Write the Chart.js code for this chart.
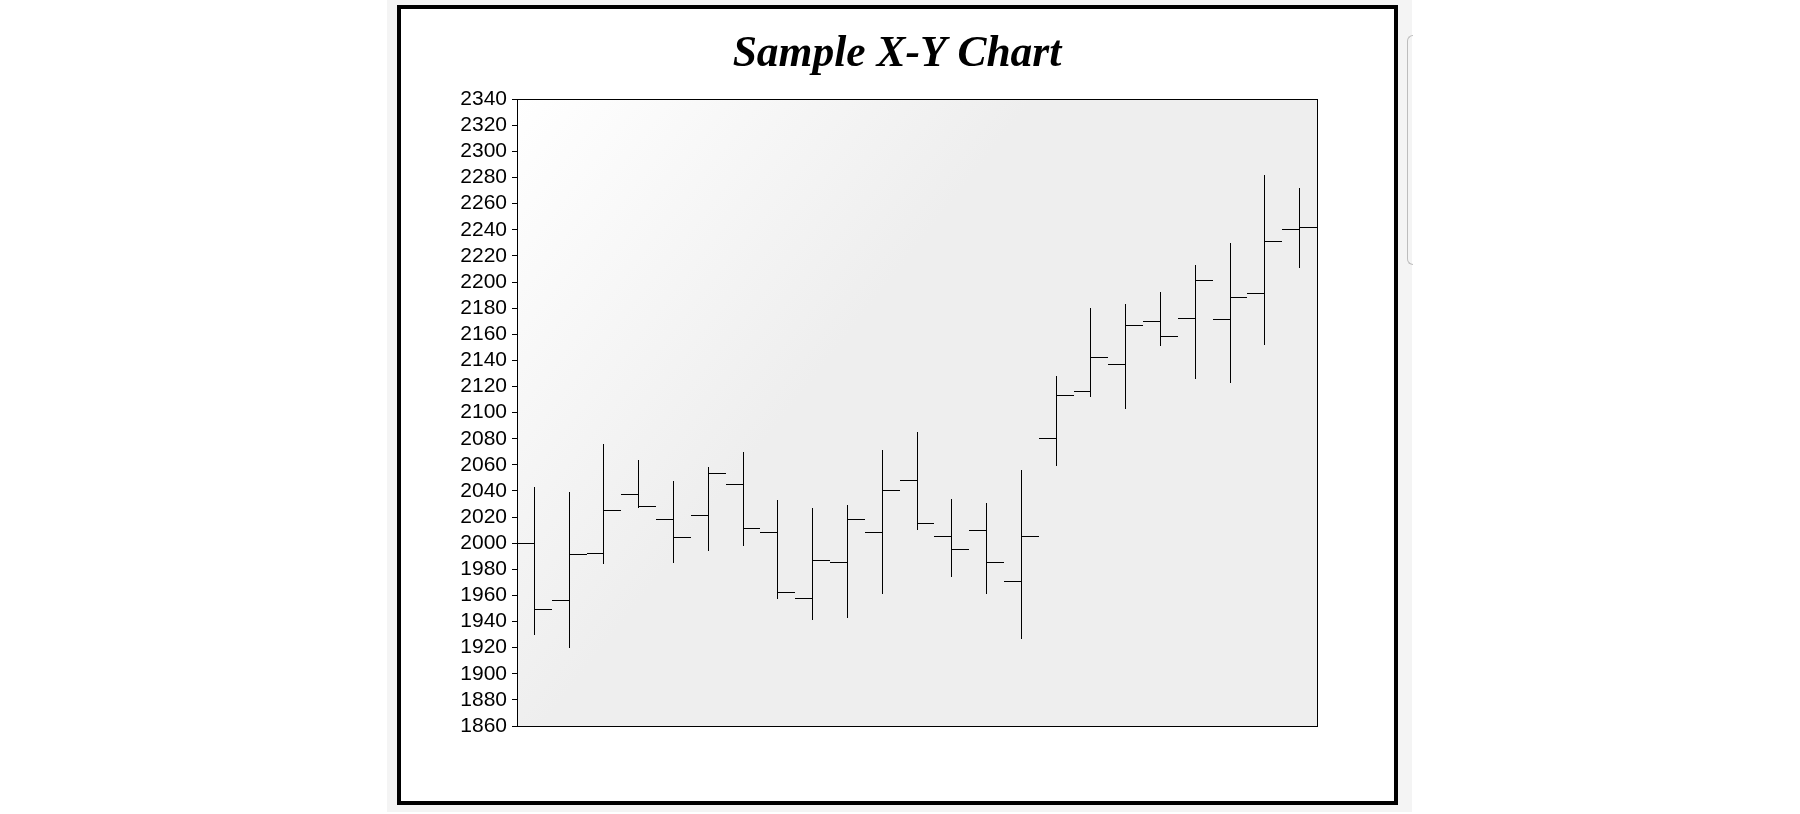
<!DOCTYPE html>
<html>
<head>
<meta charset="utf-8">
<script src="https://cdn.jsdelivr.net/npm/chart.js@4"></script>
<style>
  html, body { margin: 0; padding: 0; background: #fff; }
  #panel { position: absolute; left: 387px; top: 0; width: 1025px; height: 812px; background: #f4f4f4; }
  #frame { position: absolute; left: 397px; top: 5px; width: 1001px; height: 800px; box-sizing: border-box; border: 4px solid #000; background: #fff; }
  #scroll { position: absolute; left: 1407px; top: 35px; width: 5px; height: 228px; border: 1px solid #bdbdbd; border-right: none; border-radius: 8px 0 0 8px; }
  #chart { position: absolute; left: 0; top: 0; }
</style>
</head>
<body>
<div id="panel"></div>
<div id="scroll"></div>
<div id="frame"></div>
<canvas id="chart" width="1800" height="814"></canvas>
<script>
// OHLC values, one entry per period
const periods = [1, 2, 3, 4, 5, 6, 7, 8, 9, 10, 11, 12, 13, 14, 15, 16, 17, 18, 19, 20, 21, 22, 23];
const opens  = [2000, 1956, 1992, 2037, 2018, 2021, 2045, 2008, 1958, 1985, 2008, 2048, 2005, 2010, 1971, 2080, 2116, 2137, 2170, 2172, 2171, 2191, 2240];
const highs  = [2043, 2039, 2076, 2064, 2048, 2058, 2070, 2033, 2027, 2029, 2071, 2085, 2034, 2031, 2056, 2128, 2180, 2183, 2192, 2213, 2230, 2282, 2272];
const lows   = [1930, 1920, 1984, 2027, 1985, 1994, 1998, 1957, 1941, 1943, 1961, 2010, 1974, 1961, 1927, 2059, 2112, 2103, 2151, 2126, 2123, 2152, 2211];
const closes = [1949, 1991, 2025, 2028, 2004, 2053, 2011, 1962, 1987, 2018, 2040, 2015, 1995, 1985, 2005, 2113, 2142, 2167, 2158, 2201, 2188, 2231, 2242];

const yMin = 1860;
const yMax = 2340;
const yStep = 20;

// open tick runs from the left edge of the slot to the bar, close tick from the bar to the right edge
const openTicks = periods.flatMap((p, i) => [{ x: p - 0.5, y: opens[i] }, { x: p, y: opens[i] }, { x: p, y: null }]);
const closeTicks = periods.flatMap((p, i) => [{ x: p, y: closes[i] }, { x: p + 0.5, y: closes[i] }, { x: p, y: null }]);

const plotFrame = {
  id: "plotFrame",
  beforeDatasetsDraw(chart) {
    const { ctx, chartArea: a } = chart;
    const g = ctx.createLinearGradient(a.left, a.top, a.left + a.width * 0.4, a.top + a.height * 0.4);
    g.addColorStop(0, "#ffffff");
    g.addColorStop(1, "#eeeeee");
    ctx.save();
    ctx.fillStyle = g;
    ctx.fillRect(a.left, a.top, a.width, a.height);
    ctx.restore();

    // snap the 1px strokes onto the pixel grid so they stay crisp
    chart.data.datasets.forEach((ds, di) => {
      chart.getDatasetMeta(di).data.forEach(el => {
        if (ds.type === "bar") {
          el.x = Math.round(el.x - 0.5) + 0.5;
          el.y = Math.round(el.y);
          el.base = Math.round(el.base);
        } else {
          el.x = Math.round(el.x);
          if (!isNaN(el.y)) el.y = Math.round(el.y - 0.5) + 0.5;
        }
      });
    });
  },
  afterDraw(chart) {
    const { ctx, chartArea: a } = chart;
    ctx.save();
    ctx.strokeStyle = "#000";
    ctx.lineWidth = 1;
    ctx.strokeRect(Math.round(a.left) + 0.5, Math.round(a.top) + 0.5, Math.round(a.width), Math.round(a.height));
    ctx.restore();
  }
};

new Chart(document.getElementById("chart"), {
  type: "bar",
  data: {
    datasets: [
      {
        type: "bar",
        data: periods.map((p, i) => ({ x: p, y: [lows[i], highs[i]] })),
        backgroundColor: "#000",
        barThickness: 1,
        borderWidth: 0,
        inflateAmount: 0
      },
      {
        type: "line",
        data: openTicks,
        borderColor: "#000",
        borderWidth: 1,
        pointRadius: 0,
        spanGaps: false
      },
      {
        type: "line",
        data: closeTicks,
        borderColor: "#000",
        borderWidth: 1,
        pointRadius: 0,
        spanGaps: false
      }
    ]
  },
  options: {
    responsive: false,
    animation: false,
    devicePixelRatio: 1,
    layout: { padding: { left: 400, right: 406, top: 9, bottom: 88 } },
    plugins: {
      legend: { display: false },
      tooltip: { enabled: false },
      title: {
        display: true,
        text: "Sample X-Y Chart",
        color: "#000",
        font: { family: "'Liberation Serif', 'Times New Roman', serif", size: 43.5, weight: "bold", style: "italic" },
        padding: { top: 20, bottom: 18 }
      }
    },
    scales: {
      x: {
        type: "linear",
        min: periods[0] - 0.5,
        max: periods[periods.length - 1] + 0.5,
        offset: false,
        display: false
      },
      y: {
        min: yMin,
        max: yMax,
        ticks: {
          stepSize: yStep,
          autoSkip: false,
          color: "#000",
          padding: 5,
          font: { family: "'Liberation Sans', Arial, sans-serif", size: 21 },
          callback: v => String(v)
        },
        grid: { drawOnChartArea: false, tickLength: 5, color: "#000" },
        border: { color: "#000" },
        afterFit(scale) { scale.width = 117; }
      },
      y2: {
        position: "right",
        ticks: { display: false },
        grid: { display: false },
        border: { display: false },
        afterFit(scale) { scale.width = 77; }
      }
    }
  },
  plugins: [plotFrame]
});
</script>
</body>
</html>
